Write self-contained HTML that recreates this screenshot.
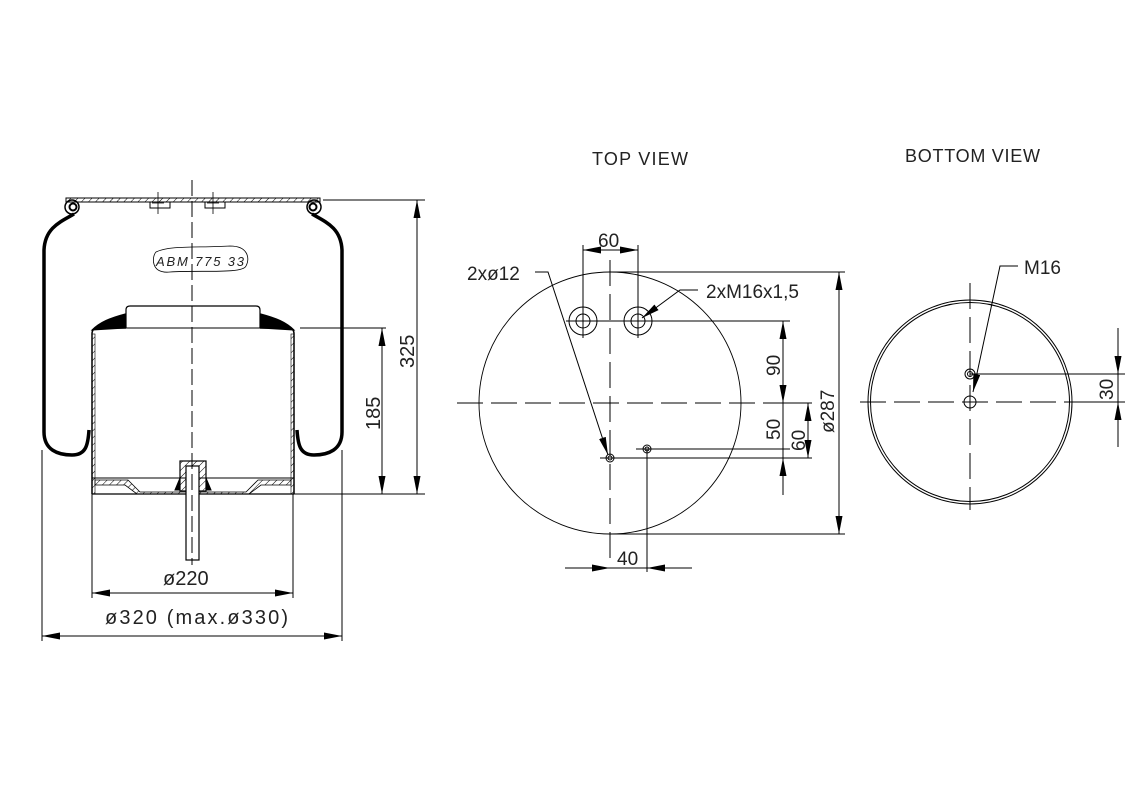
<!DOCTYPE html>
<html><head><meta charset="utf-8"><style>
html,body{margin:0;padding:0;background:#fff}
svg{display:block}
text{font-family:"Liberation Sans",sans-serif;fill:#222}
</style></head><body>
<svg width="1144" height="801" viewBox="0 0 1144 801" xmlns="http://www.w3.org/2000/svg">
<defs>
<pattern id="h" width="5" height="5" patternUnits="userSpaceOnUse" patternTransform="rotate(45)">
<line x1="0" y1="0" x2="0" y2="5" stroke="#000" stroke-width="1"/></pattern>
<marker id="a" viewBox="0 0 18 7" refX="18" refY="3.5" markerWidth="18" markerHeight="7" markerUnits="userSpaceOnUse" orient="auto-start-reverse"><path d="M0,0 L18,3.5 L0,7z" fill="#000"/></marker>
</defs>

<!-- ===== LEFT SIDE VIEW ===== -->
<g fill="none" stroke="#000">
<rect x="66" y="198" width="254" height="4" fill="url(#h)" stroke-width="1"/>
<path d="M150,202 v6 h20 v-6 M205,202 v6 h20 v-6" stroke-width="1"/>
<path d="M158,192 v22 M152,203 h12 M213,192 v22 M207,203 h12" stroke-width="0.8"/>
<circle cx="72" cy="207" r="7" stroke-width="1.5"/><circle cx="73" cy="207" r="3.5" stroke-width="2"/>
<circle cx="314" cy="207" r="7" stroke-width="1.5"/><circle cx="313" cy="207" r="3.5" stroke-width="2"/>
<path d="M74,214 C60,222 45,228 44,250 L44,432 C44,450 58,455 72,455 C86,455 88,445 89,430" stroke-width="3.5"/>
<path d="M312,214 C326,222 341,228 342,250 L342,432 C342,450 328,455 314,455 C300,455 298,445 297,430" stroke-width="3.5"/>
<path d="M92,330 C100,322 110,318 125,314 L125,328 Z" fill="#000"/>
<path d="M294,330 C286,322 276,318 261,314 L261,328 Z" fill="#000"/>
<path d="M126,328 V310 Q126,306 130,306 H256 Q260,306 260,310 V328" stroke-width="1.2"/>
<line x1="126" y1="328" x2="260" y2="328" stroke-width="1"/>
<path d="M92,494 V334 Q92,328 98,328 H126 M294,494 V334 Q294,328 288,328 H260" stroke-width="1.5"/>
<rect x="92" y="334" width="3" height="160" fill="url(#h)" stroke-width="0.6"/>
<rect x="291" y="334" width="3" height="160" fill="url(#h)" stroke-width="0.6"/>
<line x1="92" y1="478" x2="294" y2="478" stroke-width="1"/>
<line x1="92" y1="494" x2="294" y2="494" stroke-width="1.2"/>
<path d="M95,480 H128 L140,492 H246 L258,480 H291 V485 H261 L249,494 H137 L125,485 H95 Z" fill="url(#h)" stroke-width="0.8"/>
<rect x="180" y="461" width="26" height="30" fill="url(#h)" stroke-width="1.2"/>
<rect x="186" y="466" width="13" height="94" fill="#fff" stroke-width="1.2"/>
<path d="M175,490 L180,478 V490Z M211,490 L206,478 V490Z" fill="#000"/>
<path d="M156,252 C170,245 200,248 230,246 C248,246 250,258 246,266 C243,274 200,270 170,272 C150,274 152,256 156,252Z" stroke-width="0.8"/>
</g>
<text x="156" y="266" font-family="Liberation Serif" font-style="italic" font-size="13" textLength="88">ABM  775  33</text>
<line x1="192" y1="180" x2="192" y2="565" stroke="#000" stroke-width="1" stroke-dasharray="16,5"/>
<g stroke="#000" stroke-width="1" fill="none">
<line x1="300" y1="328" x2="386" y2="328"/>
<line x1="323" y1="200" x2="425" y2="200"/>
<line x1="294" y1="494" x2="425" y2="494"/>
<line x1="382" y1="328" x2="382" y2="494" marker-start="url(#a)" marker-end="url(#a)"/>
<line x1="417" y1="200" x2="417" y2="494" marker-start="url(#a)" marker-end="url(#a)"/>
<line x1="92" y1="494" x2="92" y2="598"/><line x1="293" y1="494" x2="293" y2="598"/>
<line x1="42" y1="450" x2="42" y2="641"/><line x1="342" y1="450" x2="342" y2="641"/>
<line x1="92" y1="593" x2="293" y2="593" marker-start="url(#a)" marker-end="url(#a)"/>
<line x1="42" y1="636" x2="342" y2="636" marker-start="url(#a)" marker-end="url(#a)"/>
</g>
<text x="0" y="0" font-size="20" transform="translate(414,368) rotate(-90)">325</text>
<text x="0" y="0" font-size="20" transform="translate(380,430) rotate(-90)">185</text>
<text x="163" y="585" font-size="20">ø220</text>
<text x="105" y="624" font-size="20" textLength="183">ø320  (max.ø330)</text>

<!-- ===== TOP VIEW ===== -->
<text x="592" y="165" font-size="18" textLength="96">TOP  VIEW</text>
<g stroke="#000" fill="none" stroke-width="1">
<circle cx="610" cy="403" r="131" stroke-width="0.9"/>
<line x1="457" y1="403" x2="780" y2="403" stroke-dasharray="26,8"/>
<line x1="610" y1="260" x2="610" y2="560" stroke-dasharray="26,8"/>
<circle cx="583" cy="321" r="14"/><circle cx="583" cy="321" r="7"/>
<circle cx="638" cy="321" r="14"/><circle cx="638" cy="321" r="7"/>
<circle cx="610" cy="458" r="4"/><circle cx="610" cy="458" r="2"/>
<circle cx="647" cy="449" r="4"/><circle cx="647" cy="449" r="2"/>
<line x1="583" y1="245" x2="583" y2="338"/><line x1="638" y1="245" x2="638" y2="338"/>
<line x1="583" y1="250" x2="638" y2="250" marker-start="url(#a)" marker-end="url(#a)"/>
<line x1="610" y1="272" x2="845" y2="272"/>
<line x1="610" y1="534" x2="845" y2="534"/>
<line x1="566" y1="321" x2="790" y2="321"/>
<line x1="636" y1="449" x2="790" y2="449"/>
<line x1="600" y1="458" x2="812" y2="458"/>
<line x1="780" y1="403" x2="812" y2="403"/>
<line x1="839" y1="272" x2="839" y2="534" marker-start="url(#a)" marker-end="url(#a)"/>
<line x1="783" y1="321" x2="783" y2="403" marker-start="url(#a)" marker-end="url(#a)"/>
<line x1="783" y1="403" x2="783" y2="495"/>
<line x1="783" y1="458" x2="783" y2="480" marker-start="url(#a)"/>
<line x1="808" y1="403" x2="808" y2="458" marker-start="url(#a)" marker-end="url(#a)"/>
<line x1="647" y1="449" x2="647" y2="572"/>
<line x1="565" y1="568" x2="610" y2="568" marker-end="url(#a)"/>
<line x1="692" y1="568" x2="647" y2="568" marker-end="url(#a)"/>
<line x1="610" y1="568" x2="647" y2="568"/>
<path d="M535,272 H548 L608,455" marker-end="url(#a)"/>
<path d="M698,290 H680 L642,318" marker-end="url(#a)"/>
</g>
<text x="467" y="280" font-size="19">2xø12</text>
<text x="706" y="298" font-size="19">2xM16x1,5</text>
<text x="0" y="0" font-size="19" transform="translate(780,376) rotate(-90)">90</text>
<text x="0" y="0" font-size="19" transform="translate(780,440) rotate(-90)">50</text>
<text x="0" y="0" font-size="19" transform="translate(805,451) rotate(-90)">60</text>
<text x="0" y="0" font-size="19" transform="translate(834,433) rotate(-90)">ø287</text>
<text x="598" y="247" font-size="19">60</text>
<text x="617" y="565" font-size="19">40</text>

<!-- ===== BOTTOM VIEW ===== -->
<text x="905" y="162" font-size="18" textLength="135">BOTTOM  VIEW</text>
<g stroke="#000" fill="none" stroke-width="1">
<circle cx="970" cy="402" r="102"/><circle cx="970" cy="402" r="99.5"/>
<line x1="860" y1="402" x2="1080" y2="402" stroke-dasharray="26,8"/>
<line x1="970" y1="283" x2="970" y2="510" stroke-dasharray="26,8"/>
<circle cx="970" cy="402" r="6"/>
<circle cx="970" cy="374" r="5"/><circle cx="970" cy="374" r="2.5"/>
<line x1="970" y1="374" x2="1125" y2="374"/>
<line x1="1075" y1="402" x2="1125" y2="402"/>
<line x1="1118" y1="328" x2="1118" y2="374" marker-end="url(#a)"/>
<line x1="1118" y1="447" x2="1118" y2="402" marker-end="url(#a)"/>
<line x1="1118" y1="374" x2="1118" y2="402"/>
<path d="M1018,266 H1000 L973,392" marker-end="url(#a)"/>
</g>
<text x="1024" y="274" font-size="19">M16</text>
<text x="0" y="0" font-size="19" transform="translate(1113,400) rotate(-90)">30</text>
</svg>
</body></html>
